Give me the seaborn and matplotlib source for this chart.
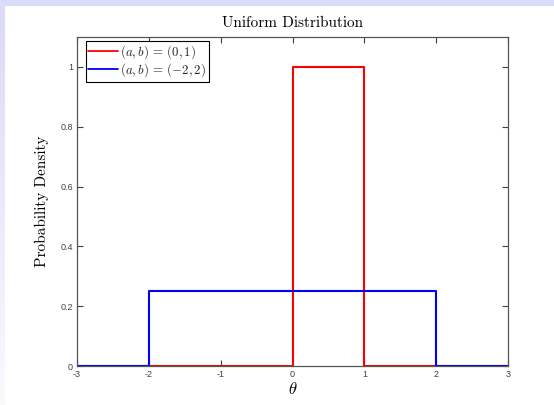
import numpy as np
import pandas as pd
import seaborn as sns
import matplotlib
matplotlib.use("Agg")
import matplotlib.pyplot as plt
from matplotlib.patches import Rectangle
from matplotlib.colors import LinearSegmentedColormap

# data
x_red = [-3, 0, 0, 1, 1, 3]
y_red = [0, 0, 1, 1, 0, 0]
x_blue = [-3, -2, -2, 2, 2, 3]
y_blue = [0, 0, 0.25, 0.25, 0, 0]
labels = [r"$(a,\!\,b)\,=\,(0,\!\,1)$", r"$(a,\!\,b)\,=\,(-2,\!\,2)$"]
xticks = [-3, -2, -1, 0, 1, 2, 3]
yticks = [0, 0.2, 0.4, 0.6, 0.8, 1]

sns.set_theme(style="white")
plt.rcParams["axes.unicode_minus"] = False
plt.rcParams["mathtext.fontset"] = "cm"
plt.rcParams["font.family"] = ["Liberation Sans", "DejaVu Sans"]

W, H = 554, 405
fig = plt.figure(figsize=(W / 100, H / 100), dpi=100)
fig.patch.set_facecolor("white")

# lavender frame (top band + left gradient band)
fig.patches.append(Rectangle((0, 1 - 6 / H), 1, 6 / H, transform=fig.transFigure,
                             facecolor="#dadaf9", edgecolor="none", zorder=0))
bax = fig.add_axes([0, 0, 5 / W, 1 - 6 / H])
grad = np.linspace(0, 1, 256).reshape(-1, 1)
cm = LinearSegmentedColormap.from_list("lav", ["#fafafe", "#dadaf9"])
bax.imshow(grad, aspect="auto", cmap=cm, origin="lower", extent=[0, 1, 0, 1])
bax.set_axis_off()

ax = fig.add_axes([77 / W, 1 - 366 / H, (508 - 77) / W, (366 - 37) / H])

df_r = pd.DataFrame({"x": x_red, "y": y_red})
df_b = pd.DataFrame({"x": x_blue, "y": y_blue})
sns.lineplot(data=df_r, x="x", y="y", ax=ax, color="#ff0000", lw=1.5, sort=False,
             estimator=None, label=labels[0])
sns.lineplot(data=df_b, x="x", y="y", ax=ax, color="#0000ff", lw=1.5, sort=False,
             estimator=None, label=labels[1])

ax.set_xlim(-3, 3)
ax.set_ylim(0, 1.1)
ax.set_xticks(xticks)
ax.set_xticklabels([str(v) for v in xticks])
ax.set_yticks(yticks)
ax.set_yticklabels(["0", "0.2", "0.4", "0.6", "0.8", "1"])
ax.tick_params(direction="in", length=4, width=0.8, colors="#404040", labelsize=6.5,
               top=True, right=True, bottom=True, left=True, pad=3)
for sp in ax.spines.values():
    sp.set_color("#555555")
    sp.set_linewidth(0.9)

ax.set_title("Uniform Distribution", fontfamily="cmr10", fontsize=11, pad=7, color="black")
ax.set_xlabel(r"$\theta$", fontsize=12, labelpad=1, color="black")
ax.set_ylabel("Probability Density", fontfamily="cmr10", fontsize=11, labelpad=8, color="black")

leg = ax.legend(loc="upper left", fontsize=9.3, frameon=True, fancybox=False,
                bbox_to_anchor=(0.02, 0.988), borderaxespad=0.0,
                handlelength=2.3, handletextpad=0.15,
                borderpad=0.2, labelspacing=0.0)
leg.get_frame().set_edgecolor("black")
leg.get_frame().set_linewidth(0.8)
leg.get_frame().set_alpha(1)
for h in leg.get_lines():
    h.set_linewidth(1.3)

fig.savefig("out.png", dpi=100)
